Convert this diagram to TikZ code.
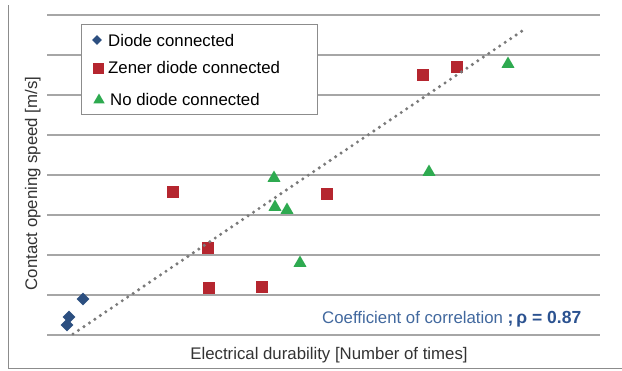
\documentclass[tikz,border=0pt]{standalone}
\usepackage{fontspec}
\setmainfont{Liberation Sans}
\usetikzlibrary{shapes.geometric}
\definecolor{diodeblue}{HTML}{2C4F80}
\definecolor{zenerred}{HTML}{B5262F}
\definecolor{nodiodegreen}{HTML}{2EAA50}
\definecolor{gridgray}{HTML}{A6A6A6}
\definecolor{framegray}{HTML}{8C8C8C}
\definecolor{labelgray}{HTML}{333333}
\definecolor{coefblue}{HTML}{41689E}
\definecolor{rhoblue}{HTML}{2B5290}
\definecolor{trendgray}{HTML}{7A7A7A}
\newcommand{\chartfont}{\fontsize{16.8}{20}\selectfont}

\begin{document}
\begin{tikzpicture}[x=1pt,y=-1pt,
		gridline/.style={gridgray,line width=1.4pt},
		diam/.style={diamond,fill=diodeblue,inner sep=0pt,minimum size=13pt},
		sq/.style={rectangle,fill=zenerred,inner sep=0pt,minimum size=12.5pt},
		tri/.style={regular polygon,regular polygon sides=3,fill=nodiodegreen,inner sep=0pt,minimum size=15pt},
		lbl/.style={inner sep=0pt,font=\chartfont,text=labelgray},
		trend/.style={color=trendgray,line width=3.4pt,line cap=round,dash pattern=on 0pt off 6.6pt}]
		\useasboundingbox (0,0) rectangle (622,370);

		%frame
		\draw[framegray,line width=1pt] (8,5) -- (8,368) -- (622,368);

		%gridlines
		\draw[gridline] (47,15) -- (600,15);
		\draw[gridline] (47,55) -- (600,55);
		\draw[gridline] (47,95) -- (600,95);
		\draw[gridline] (47,135) -- (600,135);
		\draw[gridline] (47,175) -- (600,175);
		\draw[gridline] (47,215) -- (600,215);
		\draw[gridline] (47,255) -- (600,255);
		\draw[gridline] (47,295) -- (600,295);
		\draw[gridline] (47,335) -- (600,335);

		%legend
		\draw[framegray,fill=white,line width=0.8pt] (81,24) rectangle (317,114);
		\node[diam,minimum size=10pt] (lgdDiode) at (97,40) {};
		\node[lbl,anchor=base west,text=black] (lgdDiodeTxt) at (108,46) {Diode connected};
		\node[sq,minimum size=11pt] (lgdZener) at (98,68) {};
		\node[lbl,anchor=base west,text=black] (lgdZenerTxt) at (108,73) {Zener diode connected};
		\node[tri,minimum size=13pt] (lgdNone) at (99,100) {};
		\node[lbl,anchor=base west,text=black] (lgdNoneTxt) at (110,105) {No diode connected};

		%diode connected
		\node[diam] (d1) at (67,325) {};
		\node[diam] (d2) at (69,317) {};
		\node[diam] (d3) at (83,299) {};

		%zener diode connected
		\node[sq] (z1) at (173,192) {};
		\node[sq] (z2) at (208,248) {};
		\node[sq] (z3) at (209,288) {};
		\node[sq] (z4) at (262,287) {};
		\node[sq] (z5) at (327,194) {};
		\node[sq] (z6) at (423,75) {};
		\node[sq] (z7) at (457,67) {};

		%no diode connected
		\node[tri] (n1) at (274,178) {};
		\node[tri] (n2) at (275,207) {};
		\node[tri] (n3) at (287,210) {};
		\node[tri] (n4) at (300,263) {};
		\node[tri] (n5) at (429,172) {};
		\node[tri] (n6) at (508,64) {};

		%trend line
		\coordinate (fitLow) at (73,334);
		\coordinate (fitHigh) at (522,31);
		\draw[trend] (fitLow) -- (fitHigh);

		%axis labels
		\node[lbl,anchor=base] (xlabel) at (329,359) {Electrical durability [Number of times]};
		\node[lbl,anchor=base,rotate=90] (ylabel) at (37,183.5) {Contact opening speed [m/s]};

		%correlation
		\node[lbl,anchor=base west,text=coefblue] (coef) at (322,323) {Coefficient of correlation \textcolor{rhoblue}{\fontsize{17.5}{20}\selectfont\textbf{;\,ρ = 0.87}}};
	\end{tikzpicture}
\end{document}
